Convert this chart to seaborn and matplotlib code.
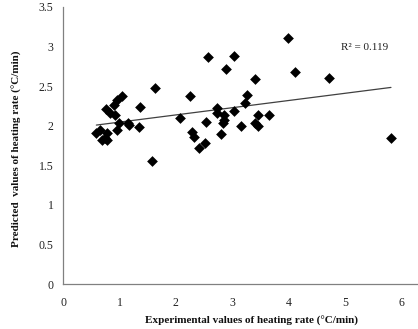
import numpy as np
import pandas as pd
import matplotlib
matplotlib.use("Agg")
import matplotlib.pyplot as plt
import seaborn as sns

# Experimental vs predicted heating rate (degC/min)
experimental = [
    0.59, 0.65, 0.69, 0.75, 0.78, 0.78, 0.77, 0.83, 0.90, 0.96,
    1.04, 0.92, 0.99, 0.96, 1.16, 1.17, 1.35, 1.37, 1.63,
    1.58, 2.07, 2.26, 2.28, 2.32, 2.42, 2.52, 2.53, 2.57,
    2.73, 2.74, 2.85, 2.85, 2.84, 2.80, 2.90, 3.03, 3.04, 3.15,
    3.23, 3.27, 3.40, 3.46, 3.40, 3.46, 3.66,
    4.00, 4.12, 4.72, 5.82,
]
predicted = [
    1.91, 1.95, 1.82, 1.85, 1.82, 1.91, 2.21, 2.16, 2.26, 2.32,
    2.37, 2.13, 2.04, 1.94, 2.04, 2.01, 1.98, 2.24, 2.48,
    1.55, 2.10, 2.37, 1.92, 1.86, 1.72, 1.78, 2.05, 2.87,
    2.22, 2.16, 2.14, 2.07, 2.03, 1.90, 2.71, 2.19, 2.88, 2.00,
    2.29, 2.39, 2.59, 2.14, 2.03, 1.99, 2.13,
    3.11, 2.68, 2.60, 1.85,
]
r2_label = "R\u00b2 = 0.119"

x_ticks = [0, 1, 2, 3, 4, 5, 6]
y_ticks = [0, 0.5, 1, 1.5, 2, 2.5, 3, 3.5]

df = pd.DataFrame({"experimental": experimental, "predicted": predicted})

sns.set_theme(style="white")
plt.rcParams["font.family"] = ["Liberation Serif", "DejaVu Serif"]

fig = plt.figure(figsize=(4.18, 3.29), dpi=100)
ax = fig.add_axes([0.151, 0.136, 0.849, 0.8435])

# linear trendline, as in the original spreadsheet chart
sns.regplot(data=df, x="experimental", y="predicted", scatter=False, ci=None,
            truncate=True, color="#404040", line_kws={"linewidth": 0.9}, ax=ax)
sns.scatterplot(data=df, x="experimental", y="predicted", marker="D", s=30,
                color="black", edgecolor="black", linewidth=0, ax=ax, zorder=3)

ax.set_xlim(0, 6.3)
ax.set_ylim(0, 3.5)
ax.set_xticks(x_ticks)
ax.set_yticks(y_ticks)
ax.set_xticklabels([str(t) for t in x_ticks])
ax.set_yticklabels([f"{t:g}" for t in y_ticks])

for side in ["top", "right"]:
    ax.spines[side].set_visible(False)
for side in ["left", "bottom"]:
    ax.spines[side].set_color("#808080")
    ax.spines[side].set_linewidth(0.9)

ax.tick_params(axis="both", which="major", direction="out", length=3, width=0.8,
               color="#808080", labelsize=8.5, labelcolor="#222222", pad=4)
ax.tick_params(axis="x", pad=6)

ax.set_xlabel("Experimental values of heating rate (\u00b0C/min)", fontsize=8,
              fontweight="bold", color="#111111")
ax.set_ylabel("Predicted  values of heating rate (\u00b0C/min)", fontsize=8,
              fontweight="bold", color="#111111")
ax.xaxis.set_label_coords(0.53, -0.115)
ax.yaxis.set_label_coords(-0.115, 0.49)

ax.text(5.36, 2.98, r2_label, fontsize=8, ha="center", va="center", color="#222222")

fig.savefig("out.png", dpi=100)
